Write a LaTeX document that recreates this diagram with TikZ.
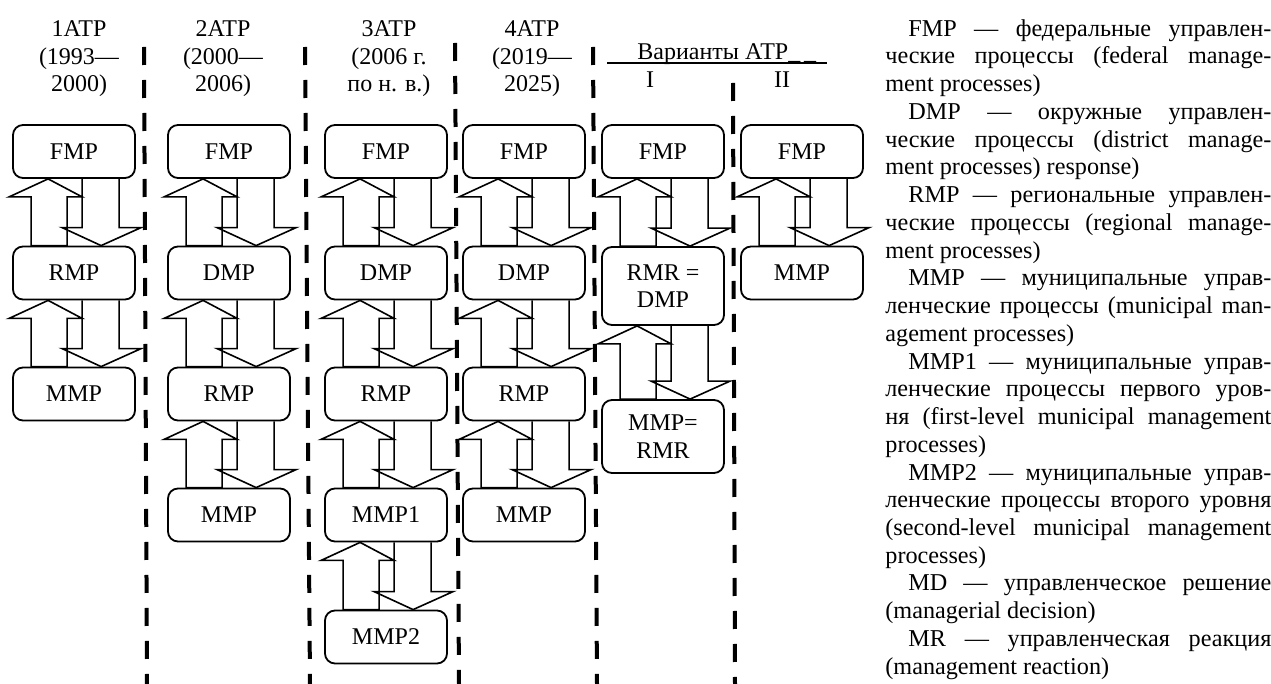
\documentclass[tikz,border=0pt]{standalone}
\usepackage{fontspec}
\setmainfont{Liberation Serif}
\usetikzlibrary{calc}

\tikzset{
 lvl/.style={draw, line width=.9pt, rounded corners=5pt, minimum width=61pt, minimum height=26.5pt, inner sep=1pt, align=center, font=\fontsize{12}{13.8}\selectfont},
 flow/.style={line width=.8pt, line join=miter},
 sepline/.style={line width=2pt, dash pattern=on 9pt off 7.5pt},
 head/.style={align=center, inner sep=0pt, font=\fontsize{12}{13.9}\selectfont},
 legend/.style={anchor=north west, inner sep=0pt, text width=193pt, align=justify, font=\fontsize{12.1}{13.87}\selectfont},
}

\newcommand{\flowpair}[2]{%
\draw[flow] let \p1=(#1.south west), \p2=(#2.north) in
 (\x1+18pt,\y1) -- (\x1-1.5pt,\y1-9pt) -- (\x1+9.5pt,\y1-9pt) -- (\x1+9.5pt,\y2)
 -- (\x1+27.5pt,\y2) -- (\x1+27.5pt,\y1-9pt) -- (\x1+35pt,\y1-9pt) -- cycle
 (\x1+35pt,\y1) -- (\x1+35pt,\y2+9pt) -- (\x1+25pt,\y2+9pt) -- (\x1+44.5pt,\y2)
 -- (\x1+64.5pt,\y2+9pt) -- (\x1+53.5pt,\y2+9pt) -- (\x1+53.5pt,\y1);
}

\begin{document}
\begin{tikzpicture}[x=.5pt, y=-.5pt]
\useasboundingbox (0,0) rectangle (1271,684);

\node[head, anchor=north] (h1) at (79,20) {1ATP\\(1993—\\2000)};
\node[head, anchor=north] (h2) at (223,20) {2ATP\\(2000—\\2006)};
\node[head, anchor=north] (h3) at (389,20) {3ATP\\(2006 г.\\по н. в.)};
\node[head, anchor=north] (h4) at (532,20) {4ATP\\(2019—\\2025)};
\node[head, anchor=base west] (var) at (637,60) {Варианты АТР\_\,\_};
\node[head, anchor=base] (v1) at (650,88) {I};
\node[head, anchor=base] (v2) at (782,88) {II};
\draw[line width=1pt] (607,63) -- (827,63);

\foreach \xa/\xb/\ya in {144/147/47, 305/310/47, 455/459/43, 593/597/47, 733/735/83}
 \draw[sepline] (\xa,\ya) -- (\xb,684);

\node[lvl] (f1) at (74,151.5) {FMP};
\node[lvl] (r1) at (74,273) {RMP};
\node[lvl] (m1) at (74,394) {MMP};

\node[lvl] (f2) at (229,151.5) {FMP};
\node[lvl] (d2) at (229,273) {DMP};
\node[lvl] (r2) at (229,394) {RMP};
\node[lvl] (m2) at (229,515) {MMP};

\node[lvl] (f3) at (386,151.5) {FMP};
\node[lvl] (d3) at (386,273) {DMP};
\node[lvl] (r3) at (386,394) {RMP};
\node[lvl] (ma3) at (386,515) {MMP1};
\node[lvl] (mb3) at (386,637) {MMP2};

\node[lvl] (f4) at (524,151.5) {FMP};
\node[lvl] (d4) at (524,273) {DMP};
\node[lvl] (r4) at (524,394) {RMP};
\node[lvl] (m4) at (524,515) {MMP};

\node[lvl] (f5) at (663,151.5) {FMP};
\node[lvl, minimum height=39pt] (rd5) at (663,286) {RMR =\\DMP};
\node[lvl, minimum height=36.5pt] (mr5) at (663,436.5) {MMP=\\RMR};

\node[lvl] (f6) at (802,151.5) {FMP};
\node[lvl] (m6) at (802,273) {MMP};

\foreach \a/\b in {f1/r1, r1/m1, f2/d2, d2/r2, r2/m2, f3/d3, d3/r3, r3/ma3, ma3/mb3,
 f4/d4, d4/r4, r4/m4, f5/rd5, rd5/mr5, f6/m6}
 \flowpair{\a}{\b};

\node[legend] (leg) at (885,19) {%
\hspace*{11.5pt}FMP — федеральные управлен-\linebreak
ческие процессы (federal manage-\linebreak
ment processes)\par
\hspace*{11.5pt}DMP — окружные управлен-\linebreak
ческие процессы (district manage-\linebreak
ment processes) response)\par
\hspace*{11.5pt}RMP — региональные управлен-\linebreak
ческие процессы (regional manage-\linebreak
ment processes)\par
\hspace*{11.5pt}MMP — муниципальные управ-\linebreak
ленческие процессы (municipal man-\linebreak
agement processes)\par
\hspace*{11.5pt}MMP1 — муниципальные управ-\linebreak
ленческие процессы первого уров-\linebreak
ня (first-level municipal management\linebreak
processes)\par
\hspace*{11.5pt}MMP2 — муниципальные управ-\linebreak
ленческие процессы второго уровня\linebreak
(second-level municipal management\linebreak
processes)\par
\hspace*{11.5pt}MD — управленческое решение\linebreak
(managerial decision)\par
\hspace*{11.5pt}MR — управленческая реакция\linebreak
(management reaction)};
\end{tikzpicture}
\end{document}
